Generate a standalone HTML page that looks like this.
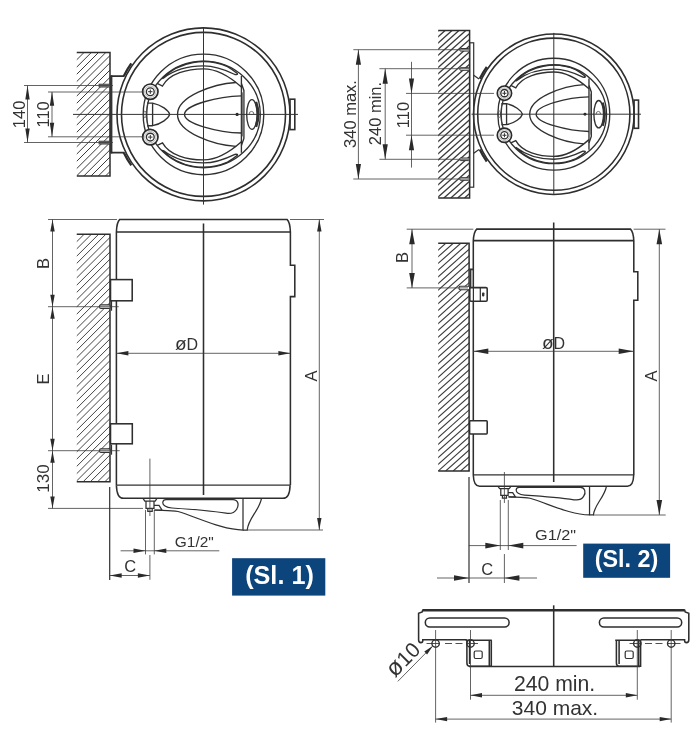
<!DOCTYPE html>
<html><head><meta charset="utf-8"><title>Sl. 1 / Sl. 2</title>
<style>html,body{margin:0;padding:0;background:#fff}svg{display:block;will-change:transform;transform:translateZ(0)}</style>
</head><body>
<svg width="700" height="750" viewBox="0 0 700 750">
<rect width="700" height="750" fill="#fff"/>
<clipPath id="h1"><rect x="76.8" y="52.5" width="33.2" height="123.5"/></clipPath>
<g clip-path="url(#h1)" stroke="#3a3a3a" stroke-width="1.0">
<line x1="-46.7" y1="176.0" x2="76.8" y2="52.5"/>
<line x1="-39.5" y1="176.0" x2="84.0" y2="52.5"/>
<line x1="-32.2" y1="176.0" x2="91.3" y2="52.5"/>
<line x1="-25.0" y1="176.0" x2="98.5" y2="52.5"/>
<line x1="-17.7" y1="176.0" x2="105.8" y2="52.5"/>
<line x1="-10.5" y1="176.0" x2="113.0" y2="52.5"/>
<line x1="-3.2" y1="176.0" x2="120.3" y2="52.5"/>
<line x1="4.0" y1="176.0" x2="127.5" y2="52.5"/>
<line x1="11.3" y1="176.0" x2="134.8" y2="52.5"/>
<line x1="18.5" y1="176.0" x2="142.1" y2="52.5"/>
<line x1="25.8" y1="176.0" x2="149.3" y2="52.5"/>
<line x1="33.0" y1="176.0" x2="156.6" y2="52.5"/>
<line x1="40.3" y1="176.0" x2="163.8" y2="52.5"/>
<line x1="47.5" y1="176.0" x2="171.1" y2="52.5"/>
<line x1="54.8" y1="176.0" x2="178.3" y2="52.5"/>
<line x1="62.0" y1="176.0" x2="185.6" y2="52.5"/>
<line x1="69.3" y1="176.0" x2="192.8" y2="52.5"/>
<line x1="76.5" y1="176.0" x2="200.1" y2="52.5"/>
<line x1="83.8" y1="176.0" x2="207.3" y2="52.5"/>
<line x1="91.0" y1="176.0" x2="214.6" y2="52.5"/>
<line x1="98.3" y1="176.0" x2="221.8" y2="52.5"/>
<line x1="105.5" y1="176.0" x2="229.1" y2="52.5"/>
</g>
<path d="M76.8,52.5 H110 V176 H76.8" stroke="#2e2e2e" stroke-width="1.5" fill="none"/>
<rect x="109.8" y="75.3" width="2.6" height="78.2" fill="#333"/>
<path d="M111,76.2 H124.2 M111,152.6 H124.2" stroke="#2e2e2e" stroke-width="1.8" fill="none"/>
<rect x="99" y="84.1" width="11" height="3" fill="#777" stroke="#333" stroke-width="0.7"/><rect x="99" y="141.1" width="11" height="3" fill="#777" stroke="#333" stroke-width="0.7"/>
<g transform="translate(203.5 114.4) scale(1)">
<circle r="86.5" stroke="#2e2e2e" stroke-width="1.60" fill="none"/><circle r="82" stroke="#2e2e2e" stroke-width="1.60" fill="none"/>
<rect x="86.5" y="-15.2" width="4.8" height="30.4" stroke="#2e2e2e" stroke-width="1.60" fill="none"/>
<path d="M-79.8,-38.1 A88.4,88.4 0 0 1 -72.2,-51.0" stroke="#2e2e2e" stroke-width="2.30" fill="none"/>
<path d="M-79.8,38.1 A88.4,88.4 0 0 0 -72.2,51.0" stroke="#2e2e2e" stroke-width="2.30" fill="none"/>
<circle r="60.3" stroke="#303030" stroke-width="1.35" fill="none"/>
<ellipse cx="0" cy="0" rx="56.8" ry="53.3" stroke="#303030" stroke-width="1.35" fill="none"/>
<path d="M-46.3,31.0 L-41.0,28.4 C-34.0,41.0 -16.0,45.5 0.0,45.5 C12.0,45.5 26.0,38.0 37.9,27.4" stroke="#303030" stroke-width="1.35" fill="none"/>
<path d="M-40.7,36.5 A56.3,52.8 0 0 0 24.0,47.8 Q29.0,45.0 33.8,40.9 Q34.6,39.6 31.4,39.9 C22.0,44.5 12.0,48.5 0.0,48.5 C-14.0,48.5 -28.0,45.5 -39.8,36.4 Q-41.3,35.4 -40.7,36.5Z" stroke="#303030" stroke-width="1.35" fill="none"/>
<path d="M-46.3,-31.0 L-41.0,-28.4 C-34.0,-41.0 -16.0,-45.5 0.0,-45.5 C12.0,-45.5 26.0,-38.0 37.9,-27.4" stroke="#303030" stroke-width="1.35" fill="none"/>
<path d="M-40.7,-36.5 A56.3,52.8 0 0 1 24.0,-47.8 Q29.0,-45.0 33.8,-40.9 Q34.6,-39.6 31.4,-39.9 C22.0,-44.5 12.0,-48.5 0.0,-48.5 C-14.0,-48.5 -28.0,-45.5 -39.8,-36.4 Q-41.3,-35.4 -40.7,-36.5Z" stroke="#303030" stroke-width="1.35" fill="none"/>
<path d="M32.4,-31.9 C10,-30.5 -26,-18 -26,0 C-26,18 10,30.5 32.4,31.9" stroke="#303030" stroke-width="1.35" fill="none"/>
<path d="M37.9,-18.6 C15,-18 -19,-9.5 -19,0 C-19,9.5 15,18 37.9,18.6" stroke="#303030" stroke-width="1.35" fill="none"/>
<line x1="37.9" y1="-38.4" x2="37.9" y2="38.4" stroke="#303030" stroke-width="1.35" fill="none"/>
<path d="M37.9,-31 L40.4,-24 V24 L37.9,31" stroke="#303030" stroke-width="1.35" fill="none"/>
<rect x="38.4" y="-22" width="1.6" height="44" fill="#777"/>
<ellipse cx="48.4" cy="0" rx="5.2" ry="14.8" stroke="#303030" stroke-width="1.35" fill="none"/>
<path d="M52.5,-12.5 Q57,0 52.5,12.5" stroke="#333" stroke-width="2.60" fill="none"/>
<path d="M45.6,0 Q45.6,-3 48,-3 Q50.4,-3 50.4,0" stroke="#444" stroke-width="0.75" fill="none"/>
<circle cx="33.6" cy="0" r="1.6" fill="#222"/>
<path d="M-56.5,-11.3 H-50.9 C-42,-9.5 -35,-4 -33.8,0 C-35,4 -42,9.5 -50.9,11.3 H-56.5" stroke="#303030" stroke-width="1.35" fill="none"/>
<line x1="-50.9" y1="-11.3" x2="-50.9" y2="11.3" stroke="#303030" stroke-width="1.35" fill="none"/>
<path d="M-55.5,-11.3 C-57.5,-6 -57.5,6 -55.5,11.3" stroke="#444" stroke-width="0.75" fill="none"/>
<ellipse cx="-58.6" cy="0" rx="1.3" ry="3.4" stroke="#444" stroke-width="0.75" fill="none"/>
<circle cx="-53.2" cy="-22.7" r="7.7" fill="#fff" stroke="#2a2a2a" stroke-width="1.70"/>
<circle cx="-53.2" cy="-22.7" r="5.7" stroke="#666" stroke-width="0.45" fill="none"/>
<circle cx="-53.2" cy="-22.7" r="3.9" stroke="#303030" stroke-width="1.35" fill="none"/>
<path d="M-55.4,-22.7 H-51 M-53.2,-24.9 V-20.5" stroke="#333" stroke-width="1.00"/>
<circle cx="-53.2" cy="22.7" r="7.7" fill="#fff" stroke="#2a2a2a" stroke-width="1.70"/>
<circle cx="-53.2" cy="22.7" r="5.7" stroke="#666" stroke-width="0.45" fill="none"/>
<circle cx="-53.2" cy="22.7" r="3.9" stroke="#303030" stroke-width="1.35" fill="none"/>
<path d="M-55.4,22.7 H-51 M-53.2,20.5 V24.9" stroke="#333" stroke-width="1.00"/>
</g>
<line x1="203.5" y1="27.6" x2="203.5" y2="204.6" stroke="#333" stroke-width="1.0" fill="none"/>
<line x1="73.0" y1="114.4" x2="298.0" y2="114.4" stroke="#333" stroke-width="1.0" fill="none"/>
<line x1="24.0" y1="85.5" x2="113.0" y2="85.5" stroke="#3c3c3c" stroke-width="0.8" fill="none"/>
<line x1="24.0" y1="142.5" x2="113.0" y2="142.5" stroke="#3c3c3c" stroke-width="0.8" fill="none"/>
<line x1="27.5" y1="85.5" x2="27.5" y2="142.5" stroke="#3c3c3c" stroke-width="0.8" fill="none"/>
<polygon points="27.5,85.5 29.7,99.5 25.3,99.5" fill="#2a2a2a"/>
<polygon points="27.5,142.5 25.3,128.5 29.7,128.5" fill="#2a2a2a"/>
<line x1="48.0" y1="92.0" x2="144.0" y2="92.0" stroke="#3c3c3c" stroke-width="0.8" fill="none"/>
<line x1="48.0" y1="136.8" x2="144.0" y2="136.8" stroke="#3c3c3c" stroke-width="0.8" fill="none"/>
<line x1="52.0" y1="92.0" x2="52.0" y2="136.8" stroke="#3c3c3c" stroke-width="0.8" fill="none"/>
<polygon points="52.0,91.8 54.2,105.8 49.8,105.8" fill="#2a2a2a"/>
<polygon points="52.0,136.8 49.8,122.8 54.2,122.8" fill="#2a2a2a"/>
<text x="25.0" y="114.4" font-size="16.5" text-anchor="middle" fill="#333" font-weight="normal" font-family="Liberation Sans, Arial, sans-serif" transform="rotate(-90 25.0 114.4)" >140</text>
<text x="49.3" y="114.4" font-size="16.5" text-anchor="middle" fill="#333" font-weight="normal" font-family="Liberation Sans, Arial, sans-serif" transform="rotate(-90 49.3 114.4)" >110</text>
<clipPath id="h2"><rect x="438.2" y="30.6" width="31.400000000000034" height="167.4"/></clipPath>
<g clip-path="url(#h2)" stroke="#3a3a3a" stroke-width="1.3">
<line x1="250.7" y1="198.0" x2="438.2" y2="30.6"/>
<line x1="257.6" y1="198.0" x2="445.1" y2="30.6"/>
<line x1="264.5" y1="198.0" x2="452.0" y2="30.6"/>
<line x1="271.4" y1="198.0" x2="458.9" y2="30.6"/>
<line x1="278.3" y1="198.0" x2="465.8" y2="30.6"/>
<line x1="285.2" y1="198.0" x2="472.7" y2="30.6"/>
<line x1="292.1" y1="198.0" x2="479.6" y2="30.6"/>
<line x1="299.0" y1="198.0" x2="486.5" y2="30.6"/>
<line x1="305.9" y1="198.0" x2="493.4" y2="30.6"/>
<line x1="312.8" y1="198.0" x2="500.3" y2="30.6"/>
<line x1="319.7" y1="198.0" x2="507.2" y2="30.6"/>
<line x1="326.6" y1="198.0" x2="514.1" y2="30.6"/>
<line x1="333.5" y1="198.0" x2="521.0" y2="30.6"/>
<line x1="340.4" y1="198.0" x2="527.9" y2="30.6"/>
<line x1="347.3" y1="198.0" x2="534.8" y2="30.6"/>
<line x1="354.2" y1="198.0" x2="541.7" y2="30.6"/>
<line x1="361.1" y1="198.0" x2="548.6" y2="30.6"/>
<line x1="368.0" y1="198.0" x2="555.5" y2="30.6"/>
<line x1="374.9" y1="198.0" x2="562.4" y2="30.6"/>
<line x1="381.8" y1="198.0" x2="569.3" y2="30.6"/>
<line x1="388.7" y1="198.0" x2="576.2" y2="30.6"/>
<line x1="395.6" y1="198.0" x2="583.1" y2="30.6"/>
<line x1="402.5" y1="198.0" x2="590.0" y2="30.6"/>
<line x1="409.4" y1="198.0" x2="596.9" y2="30.6"/>
<line x1="416.3" y1="198.0" x2="603.8" y2="30.6"/>
<line x1="423.2" y1="198.0" x2="610.7" y2="30.6"/>
<line x1="430.1" y1="198.0" x2="617.6" y2="30.6"/>
<line x1="437.0" y1="198.0" x2="624.5" y2="30.6"/>
<line x1="443.9" y1="198.0" x2="631.4" y2="30.6"/>
<line x1="450.8" y1="198.0" x2="638.3" y2="30.6"/>
<line x1="457.7" y1="198.0" x2="645.2" y2="30.6"/>
<line x1="464.6" y1="198.0" x2="652.1" y2="30.6"/>
<line x1="471.5" y1="198.0" x2="659.0" y2="30.6"/>
</g>
<path d="M438.2,30.6 H469.6 V198 H438.2" stroke="#2e2e2e" stroke-width="1.5" fill="none"/>
<rect x="469.6" y="42.8" width="4.1" height="144.4" stroke="#303030" stroke-width="1.2" fill="none"/>
<path d="M473.7,75.2 L479,78.9 M473.7,153.2 L479,149.5" stroke="#303030" stroke-width="1.2" fill="none"/>
<rect x="459.8" y="48.5" width="9.5" height="2.6" rx="0.8" fill="#fff" stroke="#333" stroke-width="1"/>
<rect x="459.8" y="67.7" width="9.5" height="2.6" rx="0.8" fill="#fff" stroke="#333" stroke-width="1"/>
<rect x="459.8" y="158.0" width="9.5" height="2.6" rx="0.8" fill="#fff" stroke="#333" stroke-width="1"/>
<rect x="459.8" y="177.7" width="9.5" height="2.6" rx="0.8" fill="#fff" stroke="#333" stroke-width="1"/>
<g transform="translate(553.8 114.2) scale(0.928)">
<circle r="86.5" stroke="#2e2e2e" stroke-width="1.72" fill="none"/><circle r="82" stroke="#2e2e2e" stroke-width="1.72" fill="none"/>
<rect x="86.5" y="-15.2" width="4.8" height="30.4" stroke="#2e2e2e" stroke-width="1.72" fill="none"/>
<path d="M-79.8,-38.1 A88.4,88.4 0 0 1 -72.2,-51.0" stroke="#2e2e2e" stroke-width="2.48" fill="none"/>
<path d="M-79.8,38.1 A88.4,88.4 0 0 0 -72.2,51.0" stroke="#2e2e2e" stroke-width="2.48" fill="none"/>
<circle r="60.3" stroke="#303030" stroke-width="1.45" fill="none"/>
<ellipse cx="0" cy="0" rx="56.8" ry="53.3" stroke="#303030" stroke-width="1.45" fill="none"/>
<path d="M-46.3,31.0 L-41.0,28.4 C-34.0,41.0 -16.0,45.5 0.0,45.5 C12.0,45.5 26.0,38.0 37.9,27.4" stroke="#303030" stroke-width="1.45" fill="none"/>
<path d="M-40.7,36.5 A56.3,52.8 0 0 0 24.0,47.8 Q29.0,45.0 33.8,40.9 Q34.6,39.6 31.4,39.9 C22.0,44.5 12.0,48.5 0.0,48.5 C-14.0,48.5 -28.0,45.5 -39.8,36.4 Q-41.3,35.4 -40.7,36.5Z" stroke="#303030" stroke-width="1.45" fill="none"/>
<path d="M-46.3,-31.0 L-41.0,-28.4 C-34.0,-41.0 -16.0,-45.5 0.0,-45.5 C12.0,-45.5 26.0,-38.0 37.9,-27.4" stroke="#303030" stroke-width="1.45" fill="none"/>
<path d="M-40.7,-36.5 A56.3,52.8 0 0 1 24.0,-47.8 Q29.0,-45.0 33.8,-40.9 Q34.6,-39.6 31.4,-39.9 C22.0,-44.5 12.0,-48.5 0.0,-48.5 C-14.0,-48.5 -28.0,-45.5 -39.8,-36.4 Q-41.3,-35.4 -40.7,-36.5Z" stroke="#303030" stroke-width="1.45" fill="none"/>
<path d="M32.4,-31.9 C10,-30.5 -26,-18 -26,0 C-26,18 10,30.5 32.4,31.9" stroke="#303030" stroke-width="1.45" fill="none"/>
<path d="M37.9,-18.6 C15,-18 -19,-9.5 -19,0 C-19,9.5 15,18 37.9,18.6" stroke="#303030" stroke-width="1.45" fill="none"/>
<line x1="37.9" y1="-38.4" x2="37.9" y2="38.4" stroke="#303030" stroke-width="1.45" fill="none"/>
<path d="M37.9,-31 L40.4,-24 V24 L37.9,31" stroke="#303030" stroke-width="1.45" fill="none"/>
<rect x="38.4" y="-22" width="1.6" height="44" fill="#777"/>
<ellipse cx="48.4" cy="0" rx="5.2" ry="14.8" stroke="#303030" stroke-width="1.45" fill="none"/>
<path d="M52.5,-12.5 Q57,0 52.5,12.5" stroke="#333" stroke-width="2.80" fill="none"/>
<path d="M45.6,0 Q45.6,-3 48,-3 Q50.4,-3 50.4,0" stroke="#444" stroke-width="0.81" fill="none"/>
<circle cx="33.6" cy="0" r="1.6" fill="#222"/>
<path d="M-56.5,-11.3 H-50.9 C-42,-9.5 -35,-4 -33.8,0 C-35,4 -42,9.5 -50.9,11.3 H-56.5" stroke="#303030" stroke-width="1.45" fill="none"/>
<line x1="-50.9" y1="-11.3" x2="-50.9" y2="11.3" stroke="#303030" stroke-width="1.45" fill="none"/>
<path d="M-55.5,-11.3 C-57.5,-6 -57.5,6 -55.5,11.3" stroke="#444" stroke-width="0.81" fill="none"/>
<ellipse cx="-58.6" cy="0" rx="1.3" ry="3.4" stroke="#444" stroke-width="0.81" fill="none"/>
<circle cx="-53.2" cy="-22.7" r="7.7" fill="#fff" stroke="#2a2a2a" stroke-width="1.83"/>
<circle cx="-53.2" cy="-22.7" r="5.7" stroke="#666" stroke-width="0.48" fill="none"/>
<circle cx="-53.2" cy="-22.7" r="3.9" stroke="#303030" stroke-width="1.45" fill="none"/>
<path d="M-55.4,-22.7 H-51 M-53.2,-24.9 V-20.5" stroke="#333" stroke-width="1.08"/>
<circle cx="-53.2" cy="22.7" r="7.7" fill="#fff" stroke="#2a2a2a" stroke-width="1.83"/>
<circle cx="-53.2" cy="22.7" r="5.7" stroke="#666" stroke-width="0.48" fill="none"/>
<circle cx="-53.2" cy="22.7" r="3.9" stroke="#303030" stroke-width="1.45" fill="none"/>
<path d="M-55.4,22.7 H-51 M-53.2,20.5 V24.9" stroke="#333" stroke-width="1.08"/>
</g>
<line x1="553.8" y1="32.9" x2="553.8" y2="195.0" stroke="#333" stroke-width="1.0" fill="none"/>
<line x1="471.5" y1="114.2" x2="641.0" y2="114.2" stroke="#333" stroke-width="1.0" fill="none"/>
<line x1="353.3" y1="49.7" x2="469.0" y2="49.7" stroke="#3c3c3c" stroke-width="0.8" fill="none"/>
<line x1="353.3" y1="179.0" x2="469.0" y2="179.0" stroke="#3c3c3c" stroke-width="0.8" fill="none"/>
<line x1="358.4" y1="49.7" x2="358.4" y2="179.0" stroke="#3c3c3c" stroke-width="0.8" fill="none"/>
<polygon points="358.4,49.7 361.0,64.7 355.8,64.7" fill="#2a2a2a"/>
<polygon points="358.4,179.0 355.8,164.0 361.0,164.0" fill="#2a2a2a"/>
<line x1="379.4" y1="68.7" x2="469.0" y2="68.7" stroke="#3c3c3c" stroke-width="0.8" fill="none"/>
<line x1="379.4" y1="159.3" x2="469.0" y2="159.3" stroke="#3c3c3c" stroke-width="0.8" fill="none"/>
<line x1="385.2" y1="68.7" x2="385.2" y2="159.3" stroke="#3c3c3c" stroke-width="0.8" fill="none"/>
<polygon points="385.2,68.7 387.8,83.7 382.6,83.7" fill="#2a2a2a"/>
<polygon points="385.2,159.3 382.6,144.3 387.8,144.3" fill="#2a2a2a"/>
<line x1="406.0" y1="93.4" x2="494.0" y2="93.4" stroke="#3c3c3c" stroke-width="0.8" fill="none"/>
<line x1="406.0" y1="135.2" x2="494.0" y2="135.2" stroke="#3c3c3c" stroke-width="0.8" fill="none"/>
<line x1="411.5" y1="61.8" x2="411.5" y2="167.6" stroke="#3c3c3c" stroke-width="0.8" fill="none"/>
<polygon points="411.5,93.4 408.9,78.4 414.1,78.4" fill="#2a2a2a"/>
<polygon points="411.5,135.2 414.1,150.2 408.9,150.2" fill="#2a2a2a"/>
<text x="356.0" y="114.0" font-size="16.5" text-anchor="middle" fill="#333" font-weight="normal" font-family="Liberation Sans, Arial, sans-serif" transform="rotate(-90 356.0 114.0)" >340 max.</text>
<text x="381.0" y="113.5" font-size="16.5" text-anchor="middle" fill="#333" font-weight="normal" font-family="Liberation Sans, Arial, sans-serif" transform="rotate(-90 381.0 113.5)" >240 min.</text>
<text x="409.0" y="115.0" font-size="16.5" text-anchor="middle" fill="#333" font-weight="normal" font-family="Liberation Sans, Arial, sans-serif" transform="rotate(-90 409.0 115.0)" >110</text>
<clipPath id="h3"><rect x="76.8" y="234.3" width="33.2" height="247.39999999999998"/></clipPath>
<g clip-path="url(#h3)" stroke="#3a3a3a" stroke-width="0.95">
<line x1="-170.6" y1="481.7" x2="76.8" y2="234.3"/>
<line x1="-163.3" y1="481.7" x2="84.1" y2="234.3"/>
<line x1="-156.1" y1="481.7" x2="91.3" y2="234.3"/>
<line x1="-148.8" y1="481.7" x2="98.6" y2="234.3"/>
<line x1="-141.6" y1="481.7" x2="105.8" y2="234.3"/>
<line x1="-134.3" y1="481.7" x2="113.1" y2="234.3"/>
<line x1="-127.1" y1="481.7" x2="120.3" y2="234.3"/>
<line x1="-119.8" y1="481.7" x2="127.6" y2="234.3"/>
<line x1="-112.6" y1="481.7" x2="134.8" y2="234.3"/>
<line x1="-105.3" y1="481.7" x2="142.1" y2="234.3"/>
<line x1="-98.1" y1="481.7" x2="149.3" y2="234.3"/>
<line x1="-90.8" y1="481.7" x2="156.6" y2="234.3"/>
<line x1="-83.6" y1="481.7" x2="163.8" y2="234.3"/>
<line x1="-76.3" y1="481.7" x2="171.1" y2="234.3"/>
<line x1="-69.1" y1="481.7" x2="178.3" y2="234.3"/>
<line x1="-61.8" y1="481.7" x2="185.6" y2="234.3"/>
<line x1="-54.6" y1="481.7" x2="192.8" y2="234.3"/>
<line x1="-47.3" y1="481.7" x2="200.1" y2="234.3"/>
<line x1="-40.1" y1="481.7" x2="207.3" y2="234.3"/>
<line x1="-32.8" y1="481.7" x2="214.6" y2="234.3"/>
<line x1="-25.6" y1="481.7" x2="221.8" y2="234.3"/>
<line x1="-18.3" y1="481.7" x2="229.1" y2="234.3"/>
<line x1="-11.1" y1="481.7" x2="236.3" y2="234.3"/>
<line x1="-3.8" y1="481.7" x2="243.6" y2="234.3"/>
<line x1="3.4" y1="481.7" x2="250.8" y2="234.3"/>
<line x1="10.7" y1="481.7" x2="258.1" y2="234.3"/>
<line x1="17.9" y1="481.7" x2="265.3" y2="234.3"/>
<line x1="25.2" y1="481.7" x2="272.6" y2="234.3"/>
<line x1="32.4" y1="481.7" x2="279.8" y2="234.3"/>
<line x1="39.7" y1="481.7" x2="287.1" y2="234.3"/>
<line x1="46.9" y1="481.7" x2="294.3" y2="234.3"/>
<line x1="54.2" y1="481.7" x2="301.6" y2="234.3"/>
<line x1="61.4" y1="481.7" x2="308.8" y2="234.3"/>
<line x1="68.7" y1="481.7" x2="316.1" y2="234.3"/>
<line x1="75.9" y1="481.7" x2="323.3" y2="234.3"/>
<line x1="83.2" y1="481.7" x2="330.6" y2="234.3"/>
<line x1="90.4" y1="481.7" x2="337.8" y2="234.3"/>
<line x1="97.7" y1="481.7" x2="345.1" y2="234.3"/>
<line x1="104.9" y1="481.7" x2="352.3" y2="234.3"/>
</g>
<path d="M76.8,234.3 H110 V481.7 H76.8" stroke="#2e2e2e" stroke-width="1.5" fill="none"/>
<path d="M116.4,485.2 V232 C116.6,226 117.5,221.5 119.8,219.4 H287 C289.3,221.5 290.2,226 290.4,232 V265.3 H294.8 V296.6 H290.4 V485.2" stroke="#2e2e2e" stroke-width="1.55" fill="none"/>
<path d="M116.4,485.2 C116.6,493 118,498.3 123.5,498.3 H283 C288.5,498.3 289.9,493 290.1,485.2" stroke="#2e2e2e" stroke-width="1.55" fill="none"/>
<line x1="116.4" y1="232.0" x2="290.4" y2="232.0" stroke="#2e2e2e" stroke-width="1.55" fill="none"/>
<line x1="116.5" y1="485.2" x2="290.0" y2="485.2" stroke="#303030" stroke-width="1.2" fill="none"/>
<line x1="203.5" y1="223.5" x2="203.5" y2="495.0" stroke="#2e2e2e" stroke-width="1.55" fill="none"/>
<rect x="110.5" y="279.6" width="21.7" height="21.2" fill="#fff" stroke="#2e2e2e" stroke-width="1.55" />
<rect x="110.5" y="423.8" width="21.8" height="20" fill="#fff" stroke="#2e2e2e" stroke-width="1.55" />
<rect x="99.6" y="304.9" width="10.6" height="3.5" rx="1.2" fill="#fff" stroke="#333" stroke-width="1.1"/>
<path d="M111.5,300.7 V310.7" stroke="#303030" stroke-width="1.2" fill="none"/>
<rect x="99.6" y="448.9" width="10.6" height="3.5" rx="1.2" fill="#fff" stroke="#333" stroke-width="1.1"/>
<path d="M111.5,444.7 V454.7" stroke="#303030" stroke-width="1.2" fill="none"/>
<g transform="translate(203.5 498.3) scale(1 1) translate(-203.5 -498.3)">
<path d="M155,510 C165,510.5 172,510.5 178,511.5 C198,517.5 222,529.8 243,530 V498.3" stroke="#303030" stroke-width="1.25" fill="none"/>
<path d="M261.5,498.3 C259,511 248.5,518 247.2,530 H243" stroke="#303030" stroke-width="1.25" fill="none"/>
<path d="M166,499.5 H233 C238,499.5 239.5,505 236.5,509.5 C234,513.6 230,513.8 226,513.2 C212,511 190,509.2 172,508 C166,507.5 162.5,505 162.8,502.3 C163,500.2 164,499.5 166,499.5Z" stroke="#303030" stroke-width="1.25" fill="none"/>
<path d="M143,498.3 L144.8,501 H155.2 L157,498.3 M146,501 V508.3 H154 V501 M147.8,508.3 V511.3 H152.2 V508.3 M154,505.3 H159 L162,510 H154" stroke="#303030" stroke-width="1.25" fill="none"/>
</g>
<line x1="149.9" y1="458.6" x2="149.9" y2="516.0" stroke="#3c3c3c" stroke-width="0.8" fill="none"/>
<line x1="149.9" y1="555.0" x2="149.9" y2="579.8" stroke="#3c3c3c" stroke-width="0.8" fill="none"/>
<line x1="48.0" y1="219.5" x2="117.0" y2="219.5" stroke="#3c3c3c" stroke-width="0.8" fill="none"/>
<line x1="48.0" y1="306.7" x2="118.7" y2="306.7" stroke="#3c3c3c" stroke-width="0.8" fill="none"/>
<line x1="48.0" y1="450.7" x2="119.7" y2="450.7" stroke="#3c3c3c" stroke-width="0.8" fill="none"/>
<line x1="48.0" y1="508.4" x2="143.0" y2="508.4" stroke="#3c3c3c" stroke-width="0.8" fill="none"/>
<line x1="52.5" y1="219.5" x2="52.5" y2="508.4" stroke="#3c3c3c" stroke-width="0.8" fill="none"/>
<polygon points="52.5,219.5 54.7,231.5 50.3,231.5" fill="#2a2a2a"/>
<polygon points="52.5,306.7 50.3,294.7 54.7,294.7" fill="#2a2a2a"/>
<polygon points="52.5,306.7 54.7,318.7 50.3,318.7" fill="#2a2a2a"/>
<polygon points="52.5,450.7 50.3,438.7 54.7,438.7" fill="#2a2a2a"/>
<polygon points="52.5,450.7 54.7,462.7 50.3,462.7" fill="#2a2a2a"/>
<polygon points="52.5,508.4 50.3,496.4 54.7,496.4" fill="#2a2a2a"/>
<text x="48.8" y="263.5" font-size="16.5" text-anchor="middle" fill="#333" font-weight="normal" font-family="Liberation Sans, Arial, sans-serif" transform="rotate(-90 48.8 263.5)" >B</text>
<text x="48.8" y="379.0" font-size="16.5" text-anchor="middle" fill="#333" font-weight="normal" font-family="Liberation Sans, Arial, sans-serif" transform="rotate(-90 48.8 379.0)" >E</text>
<text x="49.3" y="478.5" font-size="17" text-anchor="middle" fill="#333" font-weight="normal" font-family="Liberation Sans, Arial, sans-serif" transform="rotate(-90 49.3 478.5)" >130</text>
<line x1="116.4" y1="353.3" x2="290.4" y2="353.3" stroke="#3c3c3c" stroke-width="0.8" fill="none"/>
<polygon points="116.4,353.3 128.4,351.1 128.4,355.5" fill="#2a2a2a"/>
<polygon points="290.4,353.3 278.4,355.5 278.4,351.1" fill="#2a2a2a"/>
<text x="186.6" y="350.0" font-size="16" text-anchor="middle" fill="#333" font-weight="normal" font-family="Liberation Sans, Arial, sans-serif" ><tspan font-size="19">ø</tspan>D</text>
<line x1="290.0" y1="219.5" x2="324.0" y2="219.5" stroke="#3c3c3c" stroke-width="0.8" fill="none"/>
<line x1="247.0" y1="530.0" x2="323.0" y2="530.0" stroke="#3c3c3c" stroke-width="0.8" fill="none"/>
<line x1="319.3" y1="219.5" x2="319.3" y2="530.0" stroke="#3c3c3c" stroke-width="0.8" fill="none"/>
<polygon points="319.3,219.5 321.5,231.5 317.1,231.5" fill="#2a2a2a"/>
<polygon points="319.3,530.0 317.1,518.0 321.5,518.0" fill="#2a2a2a"/>
<text x="316.5" y="376.0" font-size="16.5" text-anchor="middle" fill="#333" font-weight="normal" font-family="Liberation Sans, Arial, sans-serif" transform="rotate(-90 316.5 376.0)" >A</text>
<line x1="109.7" y1="487.0" x2="109.7" y2="580.0" stroke="#303030" stroke-width="1.2" fill="none"/>
<line x1="145.5" y1="510.0" x2="145.5" y2="554.4" stroke="#3c3c3c" stroke-width="0.8" fill="none"/>
<line x1="154.3" y1="510.0" x2="154.3" y2="554.4" stroke="#3c3c3c" stroke-width="0.8" fill="none"/>
<line x1="120.6" y1="550.8" x2="219.3" y2="550.8" stroke="#3c3c3c" stroke-width="0.8" fill="none"/>
<polygon points="145.5,550.8 133.5,553.0 133.5,548.6" fill="#2a2a2a"/>
<polygon points="154.3,550.8 166.3,548.6 166.3,553.0" fill="#2a2a2a"/>
<text x="174.8" y="547.4" font-size="15.2" text-anchor="start" fill="#333" font-weight="normal" font-family="Liberation Sans, Arial, sans-serif" textLength="39" lengthAdjust="spacingAndGlyphs">G1/2"</text>
<line x1="109.7" y1="575.5" x2="149.9" y2="575.5" stroke="#3c3c3c" stroke-width="0.8" fill="none"/>
<polygon points="109.7,575.5 121.7,573.3 121.7,577.7" fill="#2a2a2a"/>
<polygon points="149.9,575.5 137.9,577.7 137.9,573.3" fill="#2a2a2a"/>
<text x="130.3" y="572.2" font-size="16.5" text-anchor="middle" fill="#333" font-weight="normal" font-family="Liberation Sans, Arial, sans-serif" >C</text>
<rect x="232.1" y="558.2" width="93.2" height="37.4" fill="#0c447c"/>
<text x="279.5" y="583.8" font-size="25" text-anchor="middle" fill="#fff" font-weight="bold" font-family="Liberation Sans, Arial, sans-serif" textLength="68.7" lengthAdjust="spacingAndGlyphs">(Sl. 1)</text>
<clipPath id="h4"><rect x="438.2" y="243.3" width="31.0" height="227.7"/></clipPath>
<g clip-path="url(#h4)" stroke="#3a3a3a" stroke-width="1.1">
<line x1="183.2" y1="471.0" x2="438.2" y2="243.3"/>
<line x1="190.7" y1="471.0" x2="445.7" y2="243.3"/>
<line x1="198.2" y1="471.0" x2="453.2" y2="243.3"/>
<line x1="205.7" y1="471.0" x2="460.7" y2="243.3"/>
<line x1="213.2" y1="471.0" x2="468.2" y2="243.3"/>
<line x1="220.7" y1="471.0" x2="475.7" y2="243.3"/>
<line x1="228.2" y1="471.0" x2="483.2" y2="243.3"/>
<line x1="235.7" y1="471.0" x2="490.7" y2="243.3"/>
<line x1="243.2" y1="471.0" x2="498.2" y2="243.3"/>
<line x1="250.7" y1="471.0" x2="505.7" y2="243.3"/>
<line x1="258.2" y1="471.0" x2="513.2" y2="243.3"/>
<line x1="265.7" y1="471.0" x2="520.7" y2="243.3"/>
<line x1="273.2" y1="471.0" x2="528.2" y2="243.3"/>
<line x1="280.7" y1="471.0" x2="535.7" y2="243.3"/>
<line x1="288.2" y1="471.0" x2="543.2" y2="243.3"/>
<line x1="295.7" y1="471.0" x2="550.7" y2="243.3"/>
<line x1="303.2" y1="471.0" x2="558.2" y2="243.3"/>
<line x1="310.7" y1="471.0" x2="565.7" y2="243.3"/>
<line x1="318.2" y1="471.0" x2="573.2" y2="243.3"/>
<line x1="325.7" y1="471.0" x2="580.7" y2="243.3"/>
<line x1="333.2" y1="471.0" x2="588.2" y2="243.3"/>
<line x1="340.7" y1="471.0" x2="595.7" y2="243.3"/>
<line x1="348.2" y1="471.0" x2="603.2" y2="243.3"/>
<line x1="355.7" y1="471.0" x2="610.7" y2="243.3"/>
<line x1="363.2" y1="471.0" x2="618.2" y2="243.3"/>
<line x1="370.7" y1="471.0" x2="625.7" y2="243.3"/>
<line x1="378.2" y1="471.0" x2="633.2" y2="243.3"/>
<line x1="385.7" y1="471.0" x2="640.7" y2="243.3"/>
<line x1="393.2" y1="471.0" x2="648.2" y2="243.3"/>
<line x1="400.7" y1="471.0" x2="655.7" y2="243.3"/>
<line x1="408.2" y1="471.0" x2="663.2" y2="243.3"/>
<line x1="415.7" y1="471.0" x2="670.7" y2="243.3"/>
<line x1="423.2" y1="471.0" x2="678.2" y2="243.3"/>
<line x1="430.7" y1="471.0" x2="685.7" y2="243.3"/>
<line x1="438.2" y1="471.0" x2="693.2" y2="243.3"/>
<line x1="445.7" y1="471.0" x2="700.7" y2="243.3"/>
<line x1="453.2" y1="471.0" x2="708.2" y2="243.3"/>
<line x1="460.7" y1="471.0" x2="715.7" y2="243.3"/>
<line x1="468.2" y1="471.0" x2="723.2" y2="243.3"/>
</g>
<path d="M438.2,243.3 H469.1 V471 H438.2" stroke="#2e2e2e" stroke-width="1.5" fill="none"/>
<path d="M473.3,475 V240.8 C473.5,236 474.3,231.5 476.7,229.1 H630.5 C632.9,231.5 633.6,236 633.8,240.8 V271.7 H637.8 V300.3 H633.8 V475" stroke="#2e2e2e" stroke-width="1.55" fill="none"/>
<path d="M473.3,475 C473.5,482 474.7,486.2 479.5,486.2 H627.5 C632.3,486.2 633.5,482 633.7,475" stroke="#2e2e2e" stroke-width="1.55" fill="none"/>
<line x1="473.3" y1="240.6" x2="633.8" y2="240.6" stroke="#2e2e2e" stroke-width="1.55" fill="none"/>
<line x1="473.3" y1="474.8" x2="633.7" y2="474.8" stroke="#303030" stroke-width="1.2" fill="none"/>
<line x1="553.7" y1="222.5" x2="553.7" y2="482.0" stroke="#2e2e2e" stroke-width="1.55" fill="none"/>
<path d="M470.6,269.4 V288 M469.4,269.4 H473.3" stroke="#333" stroke-width="1.6" fill="none"/>
<rect x="459" y="286.2" width="10.6" height="3.5" rx="1.2" fill="#fff" stroke="#333" stroke-width="1.1"/>
<rect x="469.8" y="287.6" width="17.4" height="13.6" rx="1.2" fill="#fff" stroke="#2e2e2e" stroke-width="1.55" />
<path d="M473.4,287.6 V301.2 M480.3,287.6 V301.2" stroke="#303030" stroke-width="1.2" fill="none"/><rect x="482" y="292.4" width="2.4" height="4" rx="0.8" fill="#333"/>
<rect x="469.6" y="420.7" width="17.6" height="13.2" rx="0.8" fill="#fff" stroke="#2e2e2e" stroke-width="1.55" />
<g transform="translate(553.4 486.3) scale(0.915 0.905) translate(-203.5 -498.3)">
<path d="M155,510 C165,510.5 172,510.5 178,511.5 C198,517.5 222,529.8 243,530 V498.3" stroke="#303030" stroke-width="1.37" fill="none"/>
<path d="M261.5,498.3 C259,511 248.5,518 247.2,530 H243" stroke="#303030" stroke-width="1.37" fill="none"/>
<path d="M166,499.5 H233 C238,499.5 239.5,505 236.5,509.5 C234,513.6 230,513.8 226,513.2 C212,511 190,509.2 172,508 C166,507.5 162.5,505 162.8,502.3 C163,500.2 164,499.5 166,499.5Z" stroke="#303030" stroke-width="1.37" fill="none"/>
<path d="M143,498.3 L144.8,501 H155.2 L157,498.3 M146,501 V508.3 H154 V501 M147.8,508.3 V511.3 H152.2 V508.3 M154,505.3 H159 L162,510 H154" stroke="#303030" stroke-width="1.37" fill="none"/>
</g>
<line x1="504.4" y1="472.0" x2="504.4" y2="503.0" stroke="#3c3c3c" stroke-width="0.8" fill="none"/>
<line x1="504.4" y1="554.0" x2="504.4" y2="583.0" stroke="#3c3c3c" stroke-width="0.8" fill="none"/>
<line x1="406.7" y1="229.2" x2="473.3" y2="229.2" stroke="#3c3c3c" stroke-width="0.8" fill="none"/>
<line x1="406.7" y1="287.9" x2="468.0" y2="287.9" stroke="#3c3c3c" stroke-width="0.8" fill="none"/>
<line x1="412.0" y1="229.2" x2="412.0" y2="287.9" stroke="#3c3c3c" stroke-width="0.8" fill="none"/>
<polygon points="412.0,229.2 414.8,244.2 409.2,244.2" fill="#2a2a2a"/>
<polygon points="412.0,287.9 409.2,272.9 414.8,272.9" fill="#2a2a2a"/>
<text x="408.0" y="257.5" font-size="16.5" text-anchor="middle" fill="#333" font-weight="normal" font-family="Liberation Sans, Arial, sans-serif" transform="rotate(-90 408.0 257.5)" >B</text>
<line x1="473.3" y1="351.3" x2="633.7" y2="351.3" stroke="#3c3c3c" stroke-width="0.8" fill="none"/>
<polygon points="473.3,351.3 488.3,348.5 488.3,354.1" fill="#2a2a2a"/>
<polygon points="633.7,351.3 618.7,354.1 618.7,348.5" fill="#2a2a2a"/>
<text x="553.5" y="348.7" font-size="16" text-anchor="middle" fill="#333" font-weight="normal" font-family="Liberation Sans, Arial, sans-serif" ><tspan font-size="19">ø</tspan>D</text>
<line x1="633.7" y1="229.2" x2="665.5" y2="229.2" stroke="#3c3c3c" stroke-width="0.8" fill="none"/>
<line x1="593.0" y1="515.0" x2="665.7" y2="515.0" stroke="#3c3c3c" stroke-width="0.8" fill="none"/>
<line x1="659.3" y1="229.2" x2="659.3" y2="515.0" stroke="#3c3c3c" stroke-width="0.8" fill="none"/>
<polygon points="659.3,229.2 662.1,244.2 656.5,244.2" fill="#2a2a2a"/>
<polygon points="659.3,515.0 656.5,500.0 662.1,500.0" fill="#2a2a2a"/>
<text x="656.5" y="376.0" font-size="16.5" text-anchor="middle" fill="#333" font-weight="normal" font-family="Liberation Sans, Arial, sans-serif" transform="rotate(-90 656.5 376.0)" >A</text>
<line x1="469.0" y1="477.0" x2="469.0" y2="583.0" stroke="#303030" stroke-width="1.2" fill="none"/>
<line x1="500.3" y1="500.0" x2="500.3" y2="550.0" stroke="#3c3c3c" stroke-width="0.8" fill="none"/>
<line x1="508.3" y1="500.0" x2="508.3" y2="550.0" stroke="#3c3c3c" stroke-width="0.8" fill="none"/>
<line x1="468.8" y1="545.6" x2="576.6" y2="545.6" stroke="#3c3c3c" stroke-width="0.8" fill="none"/>
<polygon points="500.3,545.6 485.3,548.4 485.3,542.8" fill="#2a2a2a"/>
<polygon points="508.3,545.6 523.3,542.8 523.3,548.4" fill="#2a2a2a"/>
<text x="535.0" y="540.2" font-size="15.4" text-anchor="start" fill="#333" font-weight="normal" font-family="Liberation Sans, Arial, sans-serif" textLength="41" lengthAdjust="spacingAndGlyphs">G1/2"</text>
<line x1="437.0" y1="578.0" x2="537.0" y2="578.0" stroke="#3c3c3c" stroke-width="0.8" fill="none"/>
<polygon points="469.0,578.0 454.0,580.8 454.0,575.2" fill="#2a2a2a"/>
<polygon points="504.4,578.0 519.4,575.2 519.4,580.8" fill="#2a2a2a"/>
<text x="487.3" y="574.6" font-size="16.5" text-anchor="middle" fill="#333" font-weight="normal" font-family="Liberation Sans, Arial, sans-serif" >C</text>
<rect x="583.2" y="543.6" width="86.9" height="34.2" fill="#0c447c"/>
<text x="626.5" y="567.2" font-size="23" text-anchor="middle" fill="#fff" font-weight="bold" font-family="Liberation Sans, Arial, sans-serif" textLength="63.6" lengthAdjust="spacingAndGlyphs">(Sl. 2)</text>
<path d="M422.6,610.3 H684.8" stroke="#2e2e2e" stroke-width="2.5" fill="none"/>
<path d="M422.8,609.6 L422.2,612 L418.6,613.2 V640 Q418.6,642.6 420.9,642.6 Q422.8,642.6 422.8,640.5 V639.8 H466.8 M684.6,609.6 L685.2,612 L688.8,613.2 V640 Q688.8,642.6 686.5,642.6 Q684.6,642.6 684.6,640.5 V639.8 H640.6" stroke="#2e2e2e" stroke-width="1.55" fill="none"/>
<rect x="425.3" y="618" width="83.8" height="9" rx="4.5" stroke="#2e2e2e" stroke-width="1.55" fill="none"/>
<rect x="599.4" y="618" width="82.3" height="9" rx="4.5" stroke="#2e2e2e" stroke-width="1.55" fill="none"/>
<line x1="553.7" y1="605.3" x2="553.7" y2="666.3" stroke="#2e2e2e" stroke-width="1.55" fill="none"/>
<path d="M465.7,640.3 H491.8 M466.9,640.3 V663 Q466.9,666.3 469.9,666.3 H491.3 V640.3 M469.59999999999997,640.3 V664 M489.3,640.3 V666" stroke="#2e2e2e" stroke-width="1.55" fill="none"/>
<path d="M615.1999999999999,640.3 H641.1 M616.4,640.3 V663 Q616.4,666.3 619.4,666.3 H640.6 V640.3 M619.1,640.3 V664 M638.6,640.3 V666" stroke="#2e2e2e" stroke-width="1.55" fill="none"/>
<rect x="474.2" y="651" width="8" height="7.5" rx="1.5" stroke="#303030" stroke-width="1.2" fill="none"/>
<rect x="625.2" y="651" width="8" height="7.5" rx="1.5" stroke="#303030" stroke-width="1.2" fill="none"/>
<line x1="469.0" y1="666.4" x2="640.0" y2="666.4" stroke="#2e2e2e" stroke-width="1.55" fill="none"/>
<path d="M426.5,643.5 H439.5 M445,643.5 H452 M455.5,643.5 H462.5 M466.5,643.5 H478 M629.5,643.5 H641 M645,643.5 H652 M655.5,643.5 H662.5 M667.5,643.5 H680.5" stroke="#3c3c3c" stroke-width="0.9" fill="none"/>
<circle cx="435.6" cy="643.5" r="3.7" fill="none" stroke="#2e2e2e" stroke-width="1.4"/>
<circle cx="470.5" cy="643.5" r="3.7" fill="none" stroke="#2e2e2e" stroke-width="1.4"/>
<circle cx="637.3" cy="643.5" r="3.7" fill="none" stroke="#2e2e2e" stroke-width="1.4"/>
<circle cx="671.2" cy="643.5" r="3.7" fill="none" stroke="#2e2e2e" stroke-width="1.4"/>
<line x1="435.6" y1="630.0" x2="435.6" y2="722.6" stroke="#3c3c3c" stroke-width="0.8" fill="none"/>
<line x1="671.2" y1="630.0" x2="671.2" y2="722.6" stroke="#3c3c3c" stroke-width="0.8" fill="none"/>
<line x1="470.5" y1="630.0" x2="470.5" y2="699.7" stroke="#3c3c3c" stroke-width="0.8" fill="none"/>
<line x1="637.3" y1="630.0" x2="637.3" y2="699.7" stroke="#3c3c3c" stroke-width="0.8" fill="none"/>
<line x1="470.5" y1="695.3" x2="637.3" y2="695.3" stroke="#3c3c3c" stroke-width="0.8" fill="none"/>
<polygon points="470.5,695.3 482.0,693.1 482.0,697.5" fill="#2a2a2a"/>
<polygon points="637.3,695.3 625.8,697.5 625.8,693.1" fill="#2a2a2a"/>
<line x1="435.6" y1="719.1" x2="671.2" y2="719.1" stroke="#3c3c3c" stroke-width="0.8" fill="none"/>
<polygon points="435.6,719.1 447.1,716.9 447.1,721.3" fill="#2a2a2a"/>
<polygon points="671.2,719.1 659.7,721.3 659.7,716.9" fill="#2a2a2a"/>
<text x="554.6" y="690.8" font-size="21.2" text-anchor="middle" fill="#333" font-weight="normal" font-family="Liberation Sans, Arial, sans-serif" >240 min.</text>
<text x="555.0" y="715.0" font-size="21" text-anchor="middle" fill="#333" font-weight="normal" font-family="Liberation Sans, Arial, sans-serif" >340 max.</text>
<line x1="397.8" y1="681.4" x2="432.5" y2="646.2" stroke="#3c3c3c" stroke-width="0.8" fill="none"/>
<polygon points="432.8,645.9 427.1,654.4 424.3,651.6" fill="#2a2a2a"/>
<text x="408.3" y="664.6" font-size="21" text-anchor="middle" fill="#333" font-weight="normal" font-family="Liberation Sans, Arial, sans-serif" transform="rotate(-45.5 408.3 664.6)" ><tspan font-size="24">ø</tspan>10</text>
</svg>
</body></html>
